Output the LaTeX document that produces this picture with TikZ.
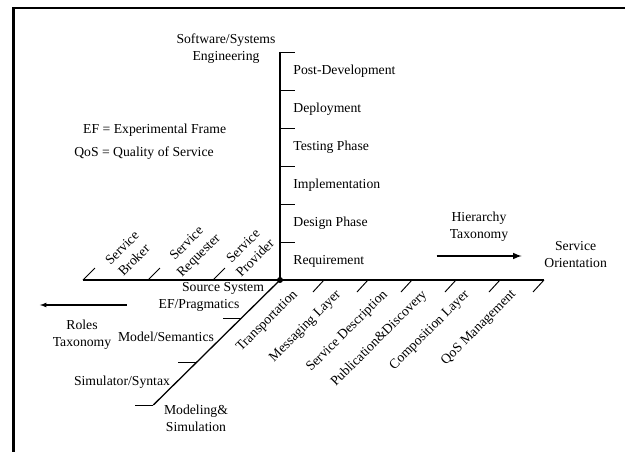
\documentclass[tikz,border=0pt]{standalone}
\usepackage{fontspec}
\setmainfont{Liberation Serif}
\usepackage{tikz}
\usetikzlibrary{arrows,calc}

\tikzset{
  lbl/.style = {font = \fontsize{11.7}{14.5}\selectfont, inner sep = 1pt, align = center},
  bone/.style = {line width = 1.1pt},
  rib/.style = {line width = .8pt}
}

\begin{document}
\begin{tikzpicture}
\useasboundingbox (-8.4,-5.16) rectangle (10.35,8.4);
% Frame
\draw[line width = 2pt] (10.35,8.16) -- (-7.99,8.16) -- (-7.99,-5.16);
% Bones
\coordinate (hub) at (0,0);
\coordinate (sseTop) at (0,6.84);
\coordinate (roleEnd) at (-5.91,0);
\coordinate (soEnd) at (7.92,0);
\coordinate (msEnd) at (-3.8,-3.75);
\draw[bone] (sseTop) -- (hub);
\draw[bone] (roleEnd) -- (soEnd);
\draw[bone] (hub) -- (msEnd);
\fill (hub) circle (.09);
% Life cycle
\foreach \k in {1,...,6}
  \draw[rib] (0,1.14*\k) -- ++(.45,0);
\foreach \name [count = \k] in {Requirement, Design Phase, Implementation, Testing Phase, Deployment, Post-Development}
  \node[lbl, anchor = west] (phase\k) at (.36,1.14*\k-.57) {\name};
\node[lbl] (sse) at (-1.62,6.95) {Software/Systems\\Engineering};
% Notes
\node[lbl] (noteEF) at (-3.76,4.5) {EF = Experimental Frame};
\node[lbl] (noteQoS) at (-4.08,3.82) {QoS = Quality of Service};
% Roles
\foreach \x in {-5.91,-3.96,-2.01}
  \draw[rib] (\x,0) -- ++(.36,.36);
\node[lbl, rotate = 45] (broker) at (-4.56,.78) {Service\\Broker};
\node[lbl, rotate = 45] (requester) at (-2.6,.9) {Service\\Requester};
\node[lbl, rotate = 45] (provider) at (-.93,.84) {Service\\Provider};
\coordinate (rolesTail) at (-4.59,-.75);
\coordinate (rolesHead) at (-7.2,-.75);
\draw[-latex, line width = .9pt] (rolesTail) -- (rolesHead);
\node[lbl] (roles) at (-5.94,-1.65) {Roles\\Taxonomy};
% Service orientation layers
\foreach \k in {1,...,6}
  \draw[rib] (1.32*\k,0) -- ++(-.33,-.36);
\foreach \x/\name [count = \k] in {.5/Transportation, 1.8/Messaging Layer, 3.2/Service Description, 4.38/Publication\&Discovery, 5.65/Composition Layer, 7.05/QoS Management}
  \node[lbl, rotate = 45, anchor = east] (layer\k) at (\x,-.36) {\name};
\node[lbl] (so) at (8.87,.75) {Service\\Orientation};
\node[lbl] (hier) at (5.97,1.6) {Hierarchy\\Taxonomy};
\coordinate (hierTail) at (4.7,.72);
\coordinate (hierHead) at (7.25,.72);
\draw[-latex, line width = 1.5pt] (hierTail) -- (hierHead);
% Modeling and simulation
\foreach \p in {.307,.661,1}
  \draw[rib] ($(hub)!\p!(msEnd)$) -- ++(-.55,0);
\node[lbl] (srcsys) at (-1.71,-.24) {Source System};
\node[lbl] (efprag) at (-2.43,-.75) {EF/Pragmatics};
\node[lbl] (modsem) at (-3.42,-1.71) {Model/Semantics};
\node[lbl] (simsyn) at (-4.74,-3.06) {Simulator/Syntax};
\node[lbl] (ms) at (-2.52,-4.14) {Modeling\&\\Simulation};
\end{tikzpicture}
\end{document}
